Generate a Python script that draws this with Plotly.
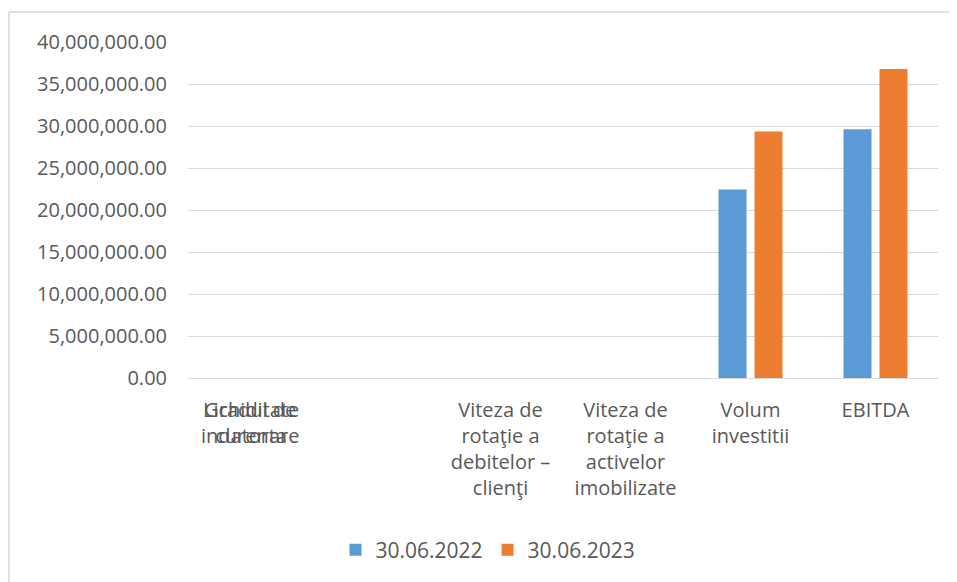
import plotly.graph_objects as go

categories = ["Lichiditate curenta", "Gradul de indatorare",
              "Viteza de rotaţie a debitelor – clienţi",
              "Viteza de rotaţie a activelor imobilizate",
              "Volum investitii", "EBITDA"]
tick_labels = ["Lichiditate<br>curenta", "Gradul de<br>indatorare",
               "Viteza de<br>rotaţie a<br>debitelor –<br>clienţi",
               "Viteza de<br>rotaţie a<br>activelor<br>imobilizate",
               "Volum<br>investitii", "EBITDA"]
series_names = ["30.06.2022", "30.06.2023"]
values_2022 = [0, 0, 0, 0, 22450000, 29600000]
values_2023 = [0, 0, 0, 0, 29350000, 36800000]
colors = ["#5B9BD5", "#ED7D31"]

W, H = 957, 582
OFF = 8  # page body margin
L, T = 188 - OFF, 42 - OFF
R = W - (938 - OFF)
B = H - (378 - OFF)
pw, ph = W - L - R, H - T - B
FONT = "Open Sans"
TXT = "#595959"

fig = go.Figure()
for name, vals, c in zip(series_names, [values_2022, values_2023], colors):
    fig.add_trace(go.Bar(x=categories, y=vals, name=name, marker_color=c,
                         marker_line_width=0))

fig.update_layout(
    width=W, height=H,
    margin=dict(l=L, r=R, t=T, b=B, autoexpand=False),
    paper_bgcolor="white", plot_bgcolor="white",
    barmode="group", bargap=0.424, bargroupgap=0.222,
    font=dict(family=FONT, size=20, color=TXT),
    showlegend=True,
    legend=dict(orientation="h", x=(488 - OFF - L) / pw, xanchor="center",
                y=-(550 - OFF - (T + ph)) / ph, yanchor="middle",
                font=dict(size=21, color=TXT), itemwidth=30,
                traceorder="normal"),
)
fig.update_yaxes(range=[0, 40000000], dtick=5000000, tickformat=",.2f",
                 showgrid=True, gridcolor="#d9d9d9", gridwidth=1,
                 zeroline=False, showline=False, ticks="",
                 ticklabelstandoff=20, tickfont=dict(size=20, color=TXT))
fig.update_xaxes(tickvals=categories[2:], ticktext=tick_labels[2:],
                 showline=True, linecolor="#d9d9d9", linewidth=1,
                 showgrid=False, ticks="", ticklabelstandoff=14,
                 tickfont=dict(size=20, color=TXT))

# the first two category labels overlap at the first category position
for lab in tick_labels[:2]:
    fig.add_annotation(x=categories[0], y=0, yref="y", text=lab,
                       showarrow=False, yanchor="top", yshift=-16,
                       align="center", font=dict(size=20, color=TXT))

# chart-area border (top and left edges visible)
x_left = (1 - L) / pw
y_top = ((T + ph) - 4) / ph
y_bot = -(H - (T + ph)) / ph
x_right = (W - L) / pw
fig.add_shape(type="line", xref="paper", yref="paper",
              x0=x_left, x1=x_right, y0=y_top, y1=y_top,
              line=dict(color="#d9d9d9", width=1.5), layer="below")
fig.add_shape(type="line", xref="paper", yref="paper",
              x0=x_left, x1=x_left, y0=y_bot, y1=y_top,
              line=dict(color="#d9d9d9", width=1.5), layer="below")

fig.write_html("out.html")
